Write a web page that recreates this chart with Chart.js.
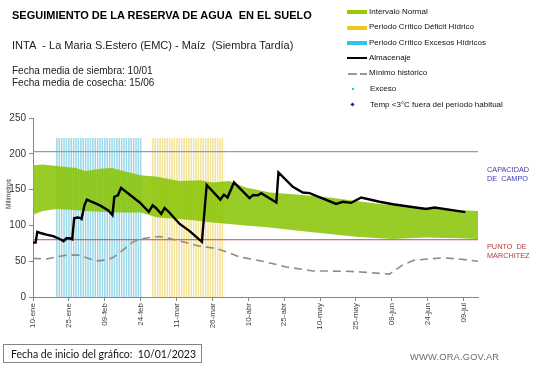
<!DOCTYPE html>
<html>
<head>
<meta charset="utf-8">
<script src="https://cdn.jsdelivr.net/npm/chart.js@4.4.0/dist/chart.umd.min.js"></script>
<style>
  html, body { margin: 0; padding: 0; background: #fff; }
  #wrap { position: relative; width: 541px; height: 368px; overflow: hidden; font-family: 'Liberation Sans', Arial, sans-serif; color: #000; }
  #wrap canvas { position: absolute; left: 0; top: 0; }
  .t { position: absolute; white-space: nowrap; line-height: 1; transform: translateY(-50%); }
  .sw { position: absolute; }
  .leg { font-size: 8px; color: #111; }
</style>
</head>
<body>
<div id="wrap">
  <canvas id="chart" width="541" height="368"></canvas>

  <div class="t" style="left:12px; top:15px; font-size:11px; font-weight:bold;">SEGUIMIENTO DE LA RESERVA DE AGUA&nbsp; EN EL SUELO</div>
  <div class="t" style="left:12px; top:45px; font-size:11px; color:#222;">INTA&nbsp; - La Maria S.Estero (EMC) - Maíz&nbsp; (Siembra Tardía)</div>
  <div class="t" style="left:12px; top:71px; font-size:10px; color:#222;">Fecha media de siembra: 10/01</div>
  <div class="t" style="left:12px; top:83px; font-size:10px; color:#222;">Fecha media de cosecha: 15/06</div>

  <!-- legend -->
  <div class="sw" style="left:347px; top:10px; width:20px; height:4px; background:#99CC00;"></div>
  <div class="t leg" style="left:369px; top:12px;">Intervalo Normal</div>
  <div class="sw" style="left:347px; top:26px; width:20px; height:4px; background:#F5C51A;"></div>
  <div class="t leg" style="left:369px; top:27px;">Periodo Crítico Déficit Hídrico</div>
  <div class="sw" style="left:347px; top:41px; width:20px; height:4px; background:#2FC3EC;"></div>
  <div class="t leg" style="left:369px; top:43px;">Periodo Crítico Excesos Hídricos</div>
  <div class="sw" style="left:347px; top:57px; width:20px; height:2px; background:#000;"></div>
  <div class="t leg" style="left:369px; top:58px;">Almacenaje</div>
  <div class="sw" style="left:348px; top:73px; width:9px; height:1.5px; background:#999;"></div>
  <div class="sw" style="left:360px; top:73px; width:7px; height:1.5px; background:#999;"></div>
  <div class="t leg" style="left:369px; top:73px;">Mínimo histórico</div>
  <div class="sw" style="left:352px; top:88px; width:2px; height:2px; background:#2FC3EC;"></div>
  <div class="t leg" style="left:370px; top:89px;">Exceso</div>
  <div class="sw" style="left:351px; top:103px; width:3px; height:3px; background:#1E22A8; transform:rotate(45deg);"></div>
  <div class="t leg" style="left:370px; top:105px;">Temp &lt;3°C fuera del período habitual</div>

  <!-- axis title and reference labels -->
  <div class="t" style="left:9px; top:194px; font-size:6.5px; color:#333; transform:translate(-50%,-50%) rotate(-90deg);">Milímetros</div>
  <div class="t" style="left:487px; top:174px; font-size:7.3px; line-height:9px; color:#3B3BAE;">CAPACIDAD<br>DE&nbsp; CAMPO</div>
  <div class="t" style="left:487px; top:251px; font-size:7.3px; line-height:9px; color:#B23A35;">PUNTO&nbsp; DE<br>MARCHITEZ</div>

  <div style="position:absolute; left:3px; top:344px; width:199px; height:19px; border:1px solid #8E7F7F; box-sizing:border-box;"></div>
  <div class="t" style="left:11px; top:354px; font-family:Lato, 'Open Sans', sans-serif; font-size:10.5px; color:#111;">Fecha de inicio del gráfico:&nbsp; 10/01/2023</div>
  <div class="t" style="left:410px; top:358px; font-size:9.3px; color:#6b6b6b; letter-spacing:0.2px;">WWW.ORA.GOV.AR</div>
</div>

<script>
// x = days since 10-ene (fecha de inicio del gráfico)
const tickLabels = ['10-ene', '25-ene', '09-feb', '24-feb', '11-mar', '26-mar', '10-abr',
                    '25-abr', '10-may', '25-may', '09-jun', '24-jun', '09-jul'];
const axisEndDay = 186;

// Intervalo normal (mm)
const bandDays  = [0, 4, 10, 18, 22, 28, 33, 39, 45, 52, 61, 70, 75, 82, 89, 99, 110, 124, 135, 145, 150, 164, 178, 186];
const bandUpper = [184, 185, 183, 180, 176, 179, 180, 175, 170, 168, 162, 163, 160, 162, 153, 146, 143, 139, 134, 130, 128, 125, 121, 120];
const bandLower = [115, 120, 123, 121, 120, 119, 118.5, 118, 118, 111, 109, 106, 104, 102, 100, 97, 93, 88, 84, 82, 81, 83, 82, 81];

// Almacenaje (mm)
const storeDays = [0, 1.1, 1.8, 3.5, 5.6, 8.4, 11.2, 12.8, 14, 15.3, 16.4, 17.2, 18.5, 19.6, 20.3, 21.5, 22.5,
                   28, 31.5, 33.2, 34, 35.5, 36.8, 44.6, 48.4, 50, 51.5, 53.6, 55, 57, 61.3, 65.5, 70.6,
                   72.6, 78.3, 79.8, 81.3, 84, 90.5, 92, 94, 95.4, 101.7, 102.6, 108.6, 112.8, 115.6,
                   126.7, 129.5, 133, 134.4, 137.2, 144.8, 150.4, 164.3, 167.8, 180.7];
const storeMm   = [76, 76, 91, 89, 87, 85, 81, 78, 82, 82, 80.5, 110, 111, 110.5, 109, 128, 136,
                   128, 121, 114.5, 140, 142, 152.5, 132, 119, 128, 124, 116, 124.5, 118, 102, 92, 77,
                   156.5, 136, 143, 139, 160, 138, 142.5, 142, 145, 132, 174, 154, 146, 145,
                   130, 133, 131.5, 134, 139, 133, 129.5, 123, 125, 118.5];

// Mínimo histórico (mm)
const minDays = [0, 5.6, 10, 14, 19.5, 23, 26.6, 30, 33.5, 37, 41.8, 45, 48.7, 52.9, 56, 59.8, 64, 69.6,
                 76.6, 80.8, 86.3, 96, 105.8, 117, 130.9, 137, 144.8, 149, 154.6, 159.4, 165, 171.3, 178.2, 186];
const minMm   = [54, 53, 56, 58.5, 58.5, 54, 50.5, 51.5, 55, 64, 77, 81, 83, 84.5, 82.5, 79.5, 76, 71,
                 67.8, 63, 56, 50, 42, 36.4, 36, 35, 33, 32, 45, 51.5, 53, 54.7, 53, 50];

// Periodos críticos [inicio, fin] en días, y altura de las barras
const excesoPeriod = [9.5, 45.5];
const deficitPeriod = [49.5, 80];
const periodTop = 222;

const capacidadCampo = 203;
const puntoMarchitez = 80;

// Exceso / heladas: sin eventos en el período
const excesoDays = [], excesoMm = [];
const heladaDays = [], heladaMm = [];

const pts = (xs, ys) => xs.map((x, i) => ({ x: x, y: ys[i] }));

function stripes(color) {
    const c = document.createElement('canvas');
    c.width = 12; c.height = 4;
    const g = c.getContext('2d');
    g.fillStyle = color;
    g.fillRect(0, 0, 12, 4);
    g.fillStyle = '#ffffff';
    for (let i = 0; i < 5; i++) g.fillRect(i * 2.4, 0, 0.9, 4);
    return g.createPattern(c, 'repeat');
}

Chart.defaults.font.family = "'Liberation Sans', Arial, sans-serif";

const flat = { pointRadius: 0, pointHoverRadius: 0, tension: 0 };

new Chart(document.getElementById('chart'), {
    type: 'line',
    data: {
        datasets: [
            { label: 'Almacenaje', data: pts(storeDays, storeMm), borderColor: '#000', borderWidth: 2.4, order: 1, ...flat },
            { label: 'Mínimo histórico', data: pts(minDays, minMm), borderColor: '#8c8c8c', borderWidth: 1.6, borderDash: [8, 5], order: 2, ...flat },
            { label: 'Capacidad de campo', data: pts([0, axisEndDay], [capacidadCampo, capacidadCampo]), borderColor: '#7f9ed2', borderWidth: 1.2, order: 3, ...flat },
            { label: 'Punto de marchitez', data: pts([0, axisEndDay], [puntoMarchitez, puntoMarchitez]), borderColor: '#c0504d', borderWidth: 1, order: 3, ...flat },
            { label: 'Exceso', data: pts(excesoDays, excesoMm), showLine: false, pointRadius: 2, backgroundColor: '#2FC3EC', order: 2 },
            { label: 'Temp <3°C', data: pts(heladaDays, heladaMm), showLine: false, pointStyle: 'rectRot', pointRadius: 3, backgroundColor: '#1E22A8', order: 2 },
            { label: 'lower', data: pts(bandDays, bandLower), borderColor: 'transparent', fill: false, order: 5, ...flat },
            { label: 'Intervalo Normal', data: pts(bandDays, bandUpper), borderColor: 'transparent', backgroundColor: 'rgba(135, 195, 0, 0.85)', fill: '-1', order: 4, ...flat },
            { label: 'Periodo Crítico Excesos Hídricos', data: pts(excesoPeriod, [periodTop, periodTop]), borderColor: 'transparent', backgroundColor: stripes('#9BD7E6'), fill: 'origin', order: 7, ...flat },
            { label: 'Periodo Crítico Déficit Hídrico', data: pts(deficitPeriod, [periodTop, periodTop]), borderColor: 'transparent', backgroundColor: stripes('#F2E397'), fill: 'origin', order: 7, ...flat }
        ]
    },
    options: {
        responsive: false,
        animation: false,
        events: [],
        layout: { padding: { top: 118, right: 63, left: 0, bottom: 0 } },
        plugins: { legend: { display: false }, tooltip: { enabled: false } },
        scales: {
            x: {
                type: 'linear',
                min: 0,
                max: axisEndDay,
                grid: { drawOnChartArea: false, drawTicks: true, tickLength: 4, color: '#868686' },
                border: { color: '#868686' },
                ticks: {
                    stepSize: 15,
                    autoSkip: false,
                    minRotation: 90,
                    maxRotation: 90,
                    padding: 2,
                    color: '#404040',
                    font: { size: 8 },
                    callback: v => tickLabels[v / 15] || ''
                },
                afterBuildTicks: s => { s.ticks = s.ticks.filter(t => t.value % 15 === 0); },
                afterFit: s => { s.height = 71; }
            },
            y: {
                min: 0,
                max: 250,
                grid: { drawOnChartArea: false, drawTicks: true, tickLength: 4, color: '#868686' },
                border: { color: '#868686' },
                ticks: { stepSize: 50, padding: 3, color: '#333', font: { size: 10 } },
                afterFit: s => { s.width = 33; }
            }
        }
    }
});
</script>
</body>
</html>
